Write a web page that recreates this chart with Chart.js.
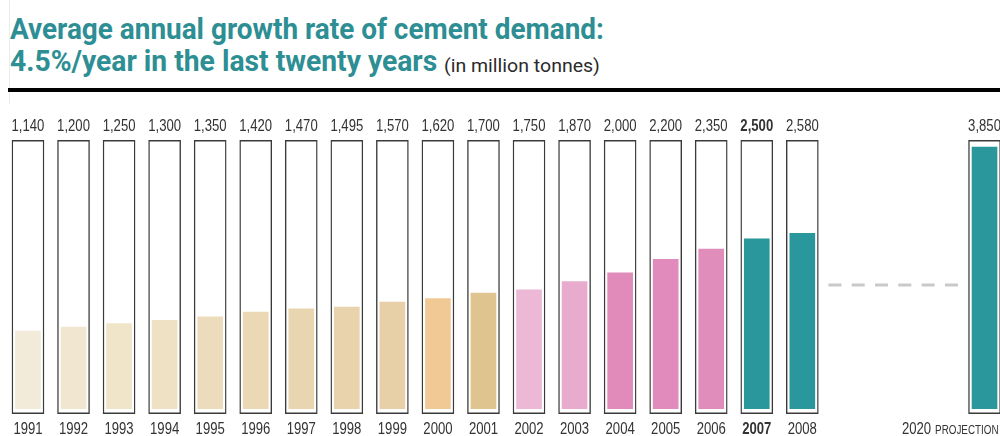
<!DOCTYPE html>
<html>
<head>
<meta charset="utf-8">
<script src="https://cdn.jsdelivr.net/npm/chart.js@4/dist/chart.umd.min.js"></script>
<style>
  html, body { margin: 0; padding: 0; background: #fff; overflow: hidden; }
  body { width: 1000px; height: 436px; position: relative; }
  .t { position: absolute; white-space: nowrap; transform-origin: 0 0; font-family: Roboto, sans-serif; }
  .big { color: #2d8e94; font-weight: bold; font-size: 29px; line-height: 29px; left: 10px; }
  #t1 { top: 15px; }
  #t2 { top: 47px; }
  #t3 { left: 444px; top: 57px; color: #2a2a2a; font-weight: 400; font-size: 18px; line-height: 18px; }
  #rule { position: absolute; left: 8px; top: 88px; width: 992px; height: 4px; background: #000; }
  #edge { position: absolute; left: 9px; top: 0; width: 1px; height: 104px; background: #ececec; }
  #wrap { position: absolute; left: 0; top: 100px; width: 1008px; height: 336px; }
</style>
</head>
<body>
<div id="edge"></div>
<div class="t big" id="t1">Average annual growth rate of cement demand:</div>
<div class="t big" id="t2">4.5%/year in the last twenty years</div>
<div class="t" id="t3">(in million tonnes)</div>
<div id="rule"></div>
<div id="wrap"><canvas id="chart"></canvas></div>

<script>
/* ---------- Data ---------- */
const years = ['1991', '1992', '1993', '1994', '1995', '1996', '1997', '1998', '1999', '2000',
               '2001', '2002', '2003', '2004', '2005', '2006', '2007', '2008', '', '', '', '2020'];
const demand = [1140, 1200, 1250, 1300, 1350, 1420, 1470, 1495, 1570, 1620,
                1700, 1750, 1870, 2000, 2200, 2350, 2500, 2580, null, null, null, 3850];
const valueLabels = ['1,140', '1,200', '1,250', '1,300', '1,350', '1,420', '1,470', '1,495', '1,570', '1,620',
                     '1,700', '1,750', '1,870', '2,000', '2,200', '2,350', '2,500', '2,580', '', '', '', '3,850'];
const barColors = ['#f3ebd9', '#f1e7d1', '#f0e4c9', '#efe1c4', '#eddcbc', '#ebd9b6', '#e9d5b0', '#e8d3ad', '#e7d0a8', '#f0c995',
                   '#dfc48f', '#ecb8d5', '#e8aacd', '#e08bba', '#e08bbb', '#e08dbc', '#2a979c', '#2a979c', null, null, null, '#2a979c'];
const highlightYear = '2007';
const lastActualIndex = 17;
const projectionIndex = 21;
const frameTop = 3950;
const frameBottom = -75;
const dashLevel = 1820;

const FONT = '"Liberation Sans", Arial, sans-serif';
const NARROW = 0.82;

/* ---------- Title fitting (narrow face) ---------- */
function fitTitle() {
    const fit = (id, w) => {
        const el = document.getElementById(id);
        el.style.transform = 'none';
        el.style.transform = 'scaleX(' + (w / el.offsetWidth) + ')';
    };
    fit('t1', 594);
    fit('t2', 427);
    fit('t3', 156);
}
fitTitle();
if (document.fonts) document.fonts.ready.then(fitTitle);

/* ---------- Helpers ---------- */
function narrowText(ctx, text, x, y, align, size, bold) {
    ctx.save();
    ctx.translate(x, y);
    ctx.scale(NARROW, 1);
    ctx.font = (bold ? 'bold ' : '') + size + 'px ' + FONT;
    ctx.textAlign = align;
    ctx.textBaseline = 'alphabetic';
    ctx.fillText(text, 0, 0);
    const w = ctx.measureText(text).width * NARROW;
    ctx.restore();
    return w;
}

/* ---------- Labels + connector ---------- */
const extrasPlugin = {
    id: 'extras',
    afterDatasetsDraw(chart) {
        const ctx = chart.ctx;
        const x = chart.scales.x, y = chart.scales.y;
        ctx.save();
        ctx.fillStyle = '#333';

        // value labels above the frames, years below
        const topY = y.getPixelForValue(frameTop) - 9;
        const baseY = chart.chartArea.bottom + 20;
        years.forEach((yr, i) => {
            if (!yr) return;
            const bold = yr === highlightYear;
            const px = x.getPixelForValue(i);
            narrowText(ctx, valueLabels[i], px, topY, 'center', 16, bold);
            if (i !== projectionIndex) narrowText(ctx, yr, px, baseY, 'center', 16, bold);
        });

        // "2020 PROJECTION"
        const rx = x.getPixelForValue(projectionIndex) + 14;
        const w = narrowText(ctx, 'PROJECTION', rx, baseY, 'right', 12, false);
        narrowText(ctx, years[projectionIndex], rx - w - 4, baseY, 'right', 16, false);

        // dashed connector between 2008 and the projection
        const mid = (x.getPixelForValue(lastActualIndex) + x.getPixelForValue(projectionIndex)) / 2;
        const dy = y.getPixelForValue(dashLevel);
        ctx.strokeStyle = '#c9c9c9';
        ctx.lineWidth = 3;
        ctx.setLineDash([13, 10.3]);
        ctx.beginPath();
        ctx.moveTo(mid - 65, dy);
        ctx.lineTo(mid + 65, dy);
        ctx.stroke();
        ctx.restore();
    }
};

const frames = demand.map(v => v === null ? null : [frameBottom, frameTop]);

new Chart(document.getElementById('chart'), {
    type: 'bar',
    data: {
        labels: years,
        datasets: [
            { label: 'Cement demand', data: demand, backgroundColor: barColors,
              barThickness: 25, grouped: false, order: 0 },
            { label: 'Frame', data: frames, backgroundColor: '#fff', borderColor: '#3a3a3a',
              borderWidth: 1.4, borderSkipped: false, barThickness: 32, grouped: false, order: 1 }
        ]
    },
    options: {
        responsive: true,
        maintainAspectRatio: false,
        animation: false,
        layout: { padding: { left: 5.2, right: 0.7, top: 37, bottom: 0 } },
        plugins: { legend: { display: false }, tooltip: { enabled: false } },
        scales: {
            x: {
                grid: { display: false, drawTicks: false },
                border: { display: false },
                ticks: { display: false },
                afterFit: s => { s.height = 22; }
            },
            y: { display: false, min: -80, max: 4000 }
        }
    },
    plugins: [extrasPlugin]
});
</script>
</body>
</html>
